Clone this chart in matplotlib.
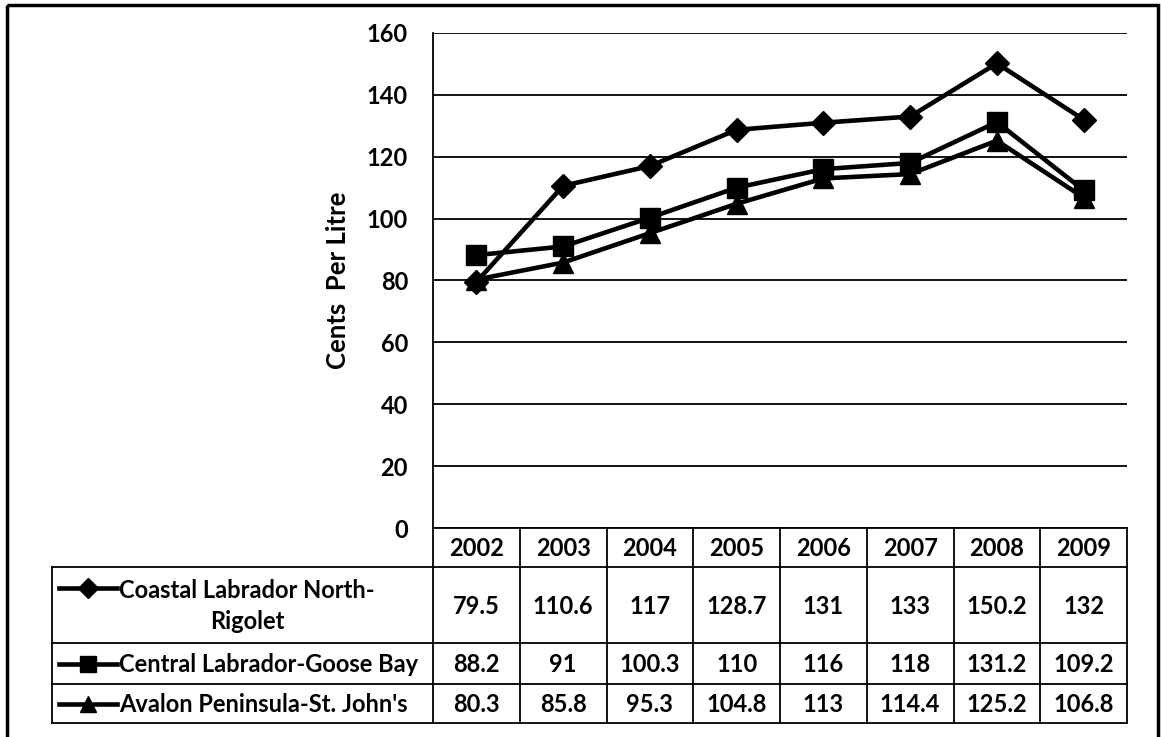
import matplotlib.pyplot as plt
from matplotlib.lines import Line2D
from matplotlib.patches import Rectangle

years = ['2002', '2003', '2004', '2005', '2006', '2007', '2008', '2009']
coastal = [79.5, 110.6, 117, 128.7, 131, 133, 150.2, 132]
central = [88.2, 91, 100.3, 110, 116, 118, 131.2, 109.2]
avalon = [80.3, 85.8, 95.3, 104.8, 113, 114.4, 125.2, 106.8]
coastal_txt = ['79.5', '110.6', '117', '128.7', '131', '133', '150.2', '132']
central_txt = ['88.2', '91', '100.3', '110', '116', '118', '131.2', '109.2']
avalon_txt = ['80.3', '85.8', '95.3', '104.8', '113', '114.4', '125.2', '106.8']
labels = ['Coastal Labrador North-\nRigolet', 'Central Labrador-Goose Bay', "Avalon Peninsula-St. John's"]
markers = ['D', 's', '^']
msizes = [12, 14, 14]

plt.rcParams['font.family'] = ['Lato', 'DejaVu Sans']

W, H = 1161, 737
fig = plt.figure(figsize=(W / 100, H / 100), dpi=100)

# plot area in pixel coords
px0, px1, py_top, py_bot = 433, 1127, 33, 528
ax = fig.add_axes([px0 / W, 1 - py_bot / H, (px1 - px0) / W, (py_bot - py_top) / H])
x = list(range(len(years)))
for vals, m, ms in zip([coastal, central, avalon], markers, msizes):
    ax.plot(x, vals, color='black', lw=3.3, marker=m, markersize=ms,
            markerfacecolor='black', markeredgecolor='black', zorder=3, clip_on=False)
ax.set_xlim(-0.5, 7.5)
ax.set_ylim(0, 160)
ax.set_yticks(range(0, 161, 20))
ax.set_xticks([])
ax.grid(axis='y', color='black', lw=1.3)
for s in ['top', 'right', 'bottom']:
    ax.spines[s].set_visible(False)
ax.spines['left'].set_linewidth(1.3)
ax.tick_params(axis='y', length=0, pad=18, labelsize=17)
for t in ax.get_yticklabels():
    t.set_fontweight('bold')
ax.set_ylabel('Cents  Per Litre', fontsize=18.5, fontweight='bold', labelpad=12)

# overlay for the data table
ov = fig.add_axes([0, 0, 1, 1])
ov.set_xlim(0, W)
ov.set_ylim(H, 0)
ov.axis('off')
ov.patch.set_alpha(0)

# outer frame
ov.add_patch(Rectangle((7, 5), 1151, 745, fill=False, lw=2.5, ec='black'))

cw = (px1 - px0) / len(years)
rows = [528, 567, 643, 684, 723]
lw = 1.3
ov.plot([px0, px1], [rows[0], rows[0]], color='black', lw=lw)
for yy in rows[1:]:
    ov.plot([52, px1], [yy, yy], color='black', lw=lw)
ov.plot([52, 52], [rows[1], rows[4]], color='black', lw=lw)
for k in range(len(years) + 1):
    ov.plot([px0 + k * cw, px0 + k * cw], [rows[0], rows[4]], color='black', lw=lw)

fs = 17
for i, yr in enumerate(years):
    cx = px0 + (i + 0.5) * cw
    ov.text(cx, (rows[0] + rows[1]) / 2 + 1, yr, ha='center', va='center', fontsize=fs, fontweight='bold')
    for r, txt in enumerate([coastal_txt, central_txt, avalon_txt]):
        ov.text(cx, (rows[r + 1] + rows[r + 2]) / 2 + 1, txt[i], ha='center', va='center',
                fontsize=fs, fontweight='bold')

key_y = [588, (rows[2] + rows[3]) / 2, (rows[3] + rows[4]) / 2]
for r in range(3):
    ov.add_line(Line2D([59, 117], [key_y[r], key_y[r]], color='black', lw=3.3))
    ov.plot([88], [key_y[r]], marker=markers[r], markersize=msizes[r] - 2, color='black')
    if r == 0:
        ov.text(119, (rows[1] + rows[2]) / 2 + 1, labels[r], ha='left', va='center', fontsize=fs,
                fontweight='bold', multialignment='center', linespacing=1.4)
    else:
        ov.text(119, key_y[r] + 1, labels[r], ha='left', va='center', fontsize=fs, fontweight='bold')

fig.savefig('out.png', dpi=100)
